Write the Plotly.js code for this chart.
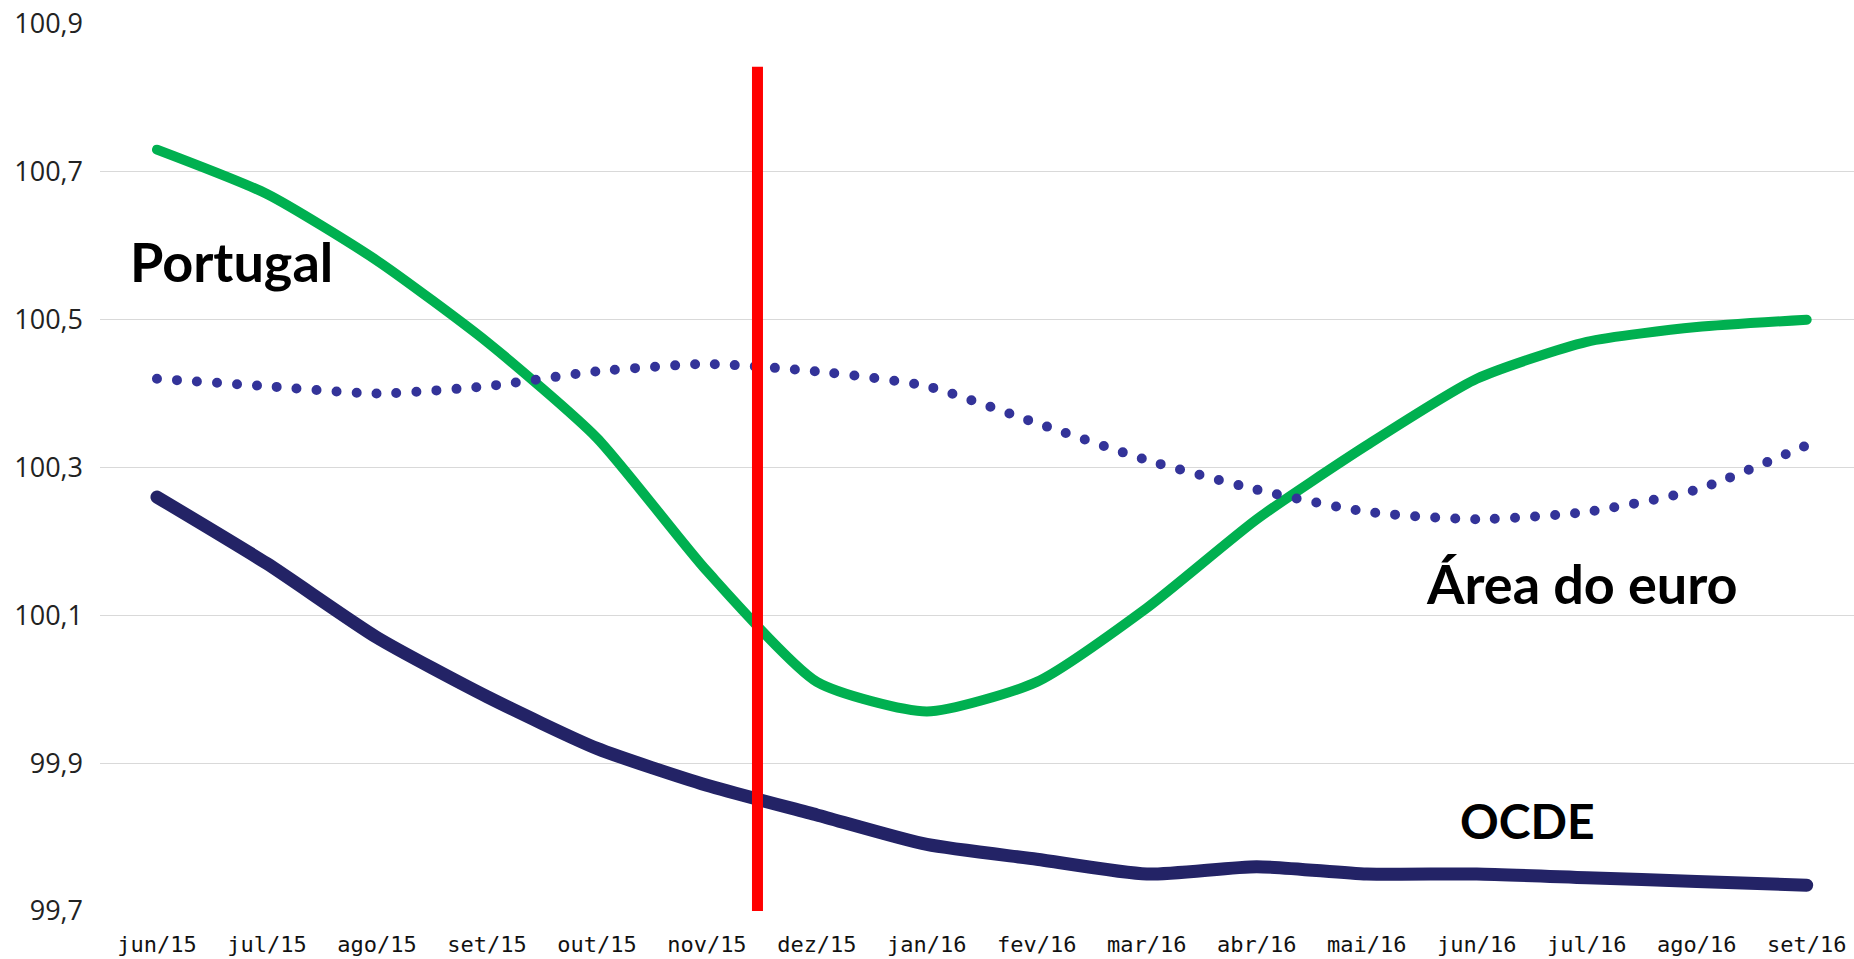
<!DOCTYPE html>
<html>
<head>
<meta charset="utf-8">
<script src="https://cdn.plot.ly/plotly-3.0.1.min.js"></script>
<style>
  html, body { margin: 0; padding: 0; background: #fff; }
  #chart { width: 1854px; height: 959px; }
  .scatterlayer path.js-line { stroke-linecap: round; stroke-linejoin: round; }
</style>
</head>
<body>
<div id="chart"></div>
<script>
const months = ["jun/15","jul/15","ago/15","set/15","out/15","nov/15","dez/15","jan/16",
                "fev/16","mar/16","abr/16","mai/16","jun/16","jul/16","ago/16","set/16"];
const portugal = [100.73,100.67,100.58,100.47,100.34,100.16,100.01,99.97,
                  100.01,100.11,100.23,100.33,100.42,100.47,100.49,100.50];
const areaEuro = [100.42,100.41,100.40,100.41,100.43,100.44,100.43,100.41,
                  100.36,100.31,100.27,100.24,100.23,100.24,100.27,100.33];
const ocde = [100.26,100.17,100.07,99.99,99.92,99.87,99.83,99.79,
              99.77,99.75,99.76,99.75,99.75,99.745,99.74,99.735];
const yTicks = [99.7, 99.9, 100.1, 100.3, 100.5, 100.7, 100.9];
const yTickText = ["99,7","99,9","100,1","100,3","100,5","100,7","100,9"];
const markerPosition = 5.46; // red vertical line between nov/15 and dez/15
const labels = [
  {text: "Portugal", x: -0.264, y: 100.579, size: 54},
  {text: "Área do euro", x: 11.518, y: 100.143, size: 54},
  {text: "OCDE", x: 11.827, y: 99.822, size: 48}
];

const traces = [
  {x: months, y: portugal, type: "scatter", mode: "lines", name: "Portugal",
   line: {color: "#00b050", width: 10, shape: "spline", smoothing: 0.6}},
  {x: months, y: areaEuro, type: "scatter", mode: "lines", name: "Área do euro",
   line: {color: "#333399", width: 10, dash: "0px,20px", shape: "spline", smoothing: 0.6}},
  {x: months, y: ocde, type: "scatter", mode: "lines", name: "OCDE",
   line: {color: "#232366", width: 13, shape: "spline", smoothing: 0.6}}
];

const layout = {
  width: 1854, height: 959,
  margin: {l: 100, r: 0, t: 24, b: 48},
  paper_bgcolor: "#ffffff", plot_bgcolor: "#ffffff",
  showlegend: false,
  xaxis: {
    type: "category",
    range: [-0.518, 15.43],
    showgrid: false, zeroline: false, showline: false, ticks: "",
    ticklabelstandoff: 18,
    tickfont: {family: "DejaVu Sans Mono", size: 22, color: "#111111"}
  },
  yaxis: {
    range: [99.7, 100.9],
    tickvals: yTicks, ticktext: yTickText,
    showgrid: true, gridcolor: "#d9d9d9", gridwidth: 1.3,
    zeroline: false, showline: false, ticks: "",
    ticklabelstandoff: 16,
    tickfont: {family: "Open Sans", size: 27, color: "#222222"}
  },
  shapes: [{
    type: "line", xref: "x", yref: "y",
    x0: markerPosition, x1: markerPosition, y0: 99.696, y1: 100.842,
    line: {color: "#ff0000", width: 11}, layer: "above"
  }],
  annotations: labels.map(l => ({
    text: "<b>" + l.text + "</b>", x: l.x, y: l.y, xref: "x", yref: "y",
    showarrow: false, xanchor: "left", yanchor: "middle",
    font: {family: "Lato", size: l.size, color: "#000000"}
  }))
};

Plotly.newPlot("chart", traces, layout, {displayModeBar: false, staticPlot: true});
</script>
</body>
</html>
